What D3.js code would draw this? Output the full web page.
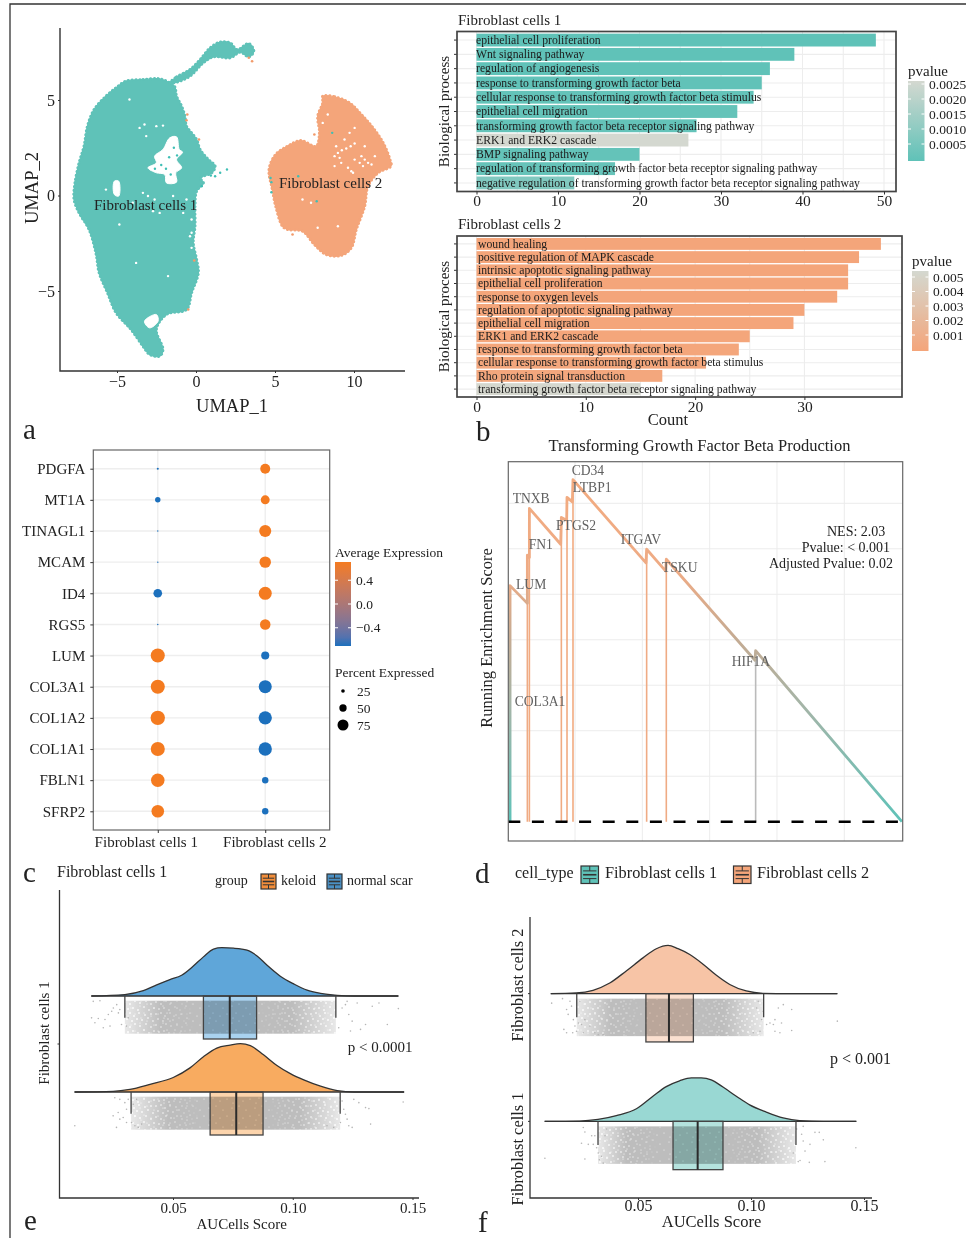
<!DOCTYPE html>
<html>
<head>
<meta charset="utf-8">
<script src="https://cdn.jsdelivr.net/npm/d3@7"></script>
<style>
  body { margin: 0; background: #fff; }
  svg { display: block; font-family: "Liberation Serif", serif; fill: #222; filter: blur(0.4px); }
</style>
</head>
<body>
<svg id="fig" width="966" height="1238"></svg>
<script>
// ---- panel a : umap outlines (umap_1, umap_2)
const umapFc1 = [[-4.43,5.99],[-3.36,6.07],[-2.30,6.11],[-1.66,5.90],[-1.34,5.69],[-1.23,5.20],[-0.91,4.68],[-0.70,4.15],[-0.60,3.63],[-0.28,3.28],[0.04,2.93],[0.26,2.41],[0.79,1.88],[1.21,1.54],[1.00,1.19],[0.26,0.92],[0.47,0.66],[0.04,0.23],[-0.06,-0.56],[-0.06,-1.61],[-0.17,-2.48],[0.04,-3.35],[0.15,-4.05],[-0.28,-5.10],[-0.60,-5.97],[-1.87,-6.23],[-2.51,-7.02],[-2.09,-8.06],[-2.30,-8.41],[-2.94,-8.32],[-3.36,-7.89],[-4.11,-7.02],[-5.06,-6.14],[-5.60,-5.10],[-6.13,-4.05],[-6.34,-3.00],[-6.77,-1.78],[-7.40,-0.91],[-7.72,-0.21],[-7.66,0.66],[-7.40,1.71],[-7.09,2.58],[-6.87,3.63],[-6.45,4.50],[-5.70,5.20],[-5.06,5.64]];
const umapFc1Tail = [[-1.66,5.90],[-1.23,6.21],[-0.38,6.60],[0.26,7.12],[0.89,7.73],[1.53,8.03],[2.17,7.99],[2.60,7.64],[3.34,7.96],[3.66,7.56],[3.34,7.26],[2.81,7.50],[2.17,7.21],[1.11,7.26],[0.47,6.95],[-0.38,6.25],[-1.23,5.93]];
const umapFc2 = [[8.02,5.20],[8.77,5.17],[9.72,4.85],[10.47,4.24],[11.21,3.54],[11.85,2.76],[12.28,1.88],[12.34,1.54],[11.53,1.19],[10.89,0.49],[10.68,-0.56],[10.15,-1.78],[9.83,-2.74],[9.19,-3.14],[8.23,-3.09],[7.49,-2.57],[6.74,-1.87],[5.79,-1.78],[5.47,-1.61],[5.04,-0.56],[4.83,0.31],[4.62,1.36],[5.04,2.15],[5.79,2.58],[6.64,2.88],[7.60,2.58],[7.81,3.28],[7.70,4.15],[8.02,4.85]];
const umapHoles = [
  [[-2.62,2.06],[-2.09,2.41],[-1.66,3.02],[-1.23,3.07],[-1.06,2.41],[-0.85,2.27],[-1.23,1.88],[-0.91,1.45],[-1.28,1.19],[-1.23,0.70],[-1.87,0.66],[-1.98,1.10],[-2.51,1.19],[-3.04,1.45],[-2.51,1.71]],
  [[-5.17,0.75],[-4.89,0.75],[-4.89,-0.03],[-5.17,0.05]],
  [[-3.26,-6.58],[-2.51,-6.23],[-2.40,-6.58],[-2.94,-6.93]]
];
const umapGaps = [[-3.26,3.72],[-2.09,3.66],[-3.57,3.54],[-5.06,0.58],[-5.70,0.31],[-3.36,0.14],[-3.04,-0.03],[-2.30,-0.91],[-2.72,-0.82],[-4.85,-1.52],[-3.79,-3.53],[-1.77,-4.22],[-0.81,-0.91],[-0.28,-1.26],[-0.38,-2.13],[-0.28,-2.74],[-0.28,-1.95],[-3.15,3.11],[-4.21,5.03],[-2.62,-0.21],[-4.0,-0.38],[-1.45,-0.03],[-2.51,3.63],[-0.6,-0.21],[9.19,1.71],[10.04,1.88],[10.47,2.06],[11.11,1.62],[9.83,1.27],[9.72,3.28],[10.04,3.54],[8.34,4.24],[8.02,3.80],[10.68,2.58],[8.77,1.54],[6.74,-0.21],[7.28,-0.38],[8.98,-1.61],[7.70,-1.69],[9.40,2.93],[10.57,1.54],[8.87,2.58],[11.32,2.06],[8.98,2.23],[9.23,2.37],[9.51,2.46],[9.79,2.58],[10.04,2.72],[8.77,2.06],[9.09,1.97],[9.62,1.45],[9.94,1.19],[10.36,1.71],[10.89,1.71],[10.68,1.88]];
const umapStrayFc1 = [[8.62,3.28],[6.47,1.01],[7.64,-0.30],[4.72,0.92],[4.77,0.70],[4.77,0.17],[1.53,1.19],[1.96,1.36],[1.21,1.01],[0.94,1.05],[0.36,0.49],[-1.7,2.0],[-1.4,2.5],[-2.2,1.6],[-1.6,1.1],[-1.2,2.1],[-2.6,1.4],[-1.9,1.4]];
const umapStrayFc2 = [[-0.55,4.24],[-0.60,3.94],[0.19,2.93],[-0.11,-3.40],[-0.49,-5.97],[3.34,7.21],[3.55,7.03],[6.11,-2.04],[7.49,3.19]];

// ---- panel b : go terms
const termsFc1 = ["epithelial cell proliferation","Wnt signaling pathway","regulation of angiogenesis","response to transforming growth factor beta","cellular response to transforming growth factor beta stimulus","epithelial cell migration","transforming growth factor beta receptor signaling pathway","ERK1 and ERK2 cascade","BMP signaling pathway","regulation of transforming growth factor beta receptor signaling pathway","negative regulation of transforming growth factor beta receptor signaling pathway"];
const countsFc1 = [49,39,36,35,34,32,27,26,20,17,12];
const pvalsFc1 = [0.00001,0.00002,0.00002,0.00005,0.00008,0.0001,0.0001,0.0025,0.0001,0.00015,0.0007];
const pvalTicksFc1 = [0.0025,0.0020,0.0015,0.0010,0.0005];
const termsFc2 = ["wound healing","positive regulation of MAPK cascade","intrinsic apoptotic signaling pathway","epithelial cell proliferation","response to oxygen levels","regulation of apoptotic signaling pathway","epithelial cell migration","ERK1 and ERK2 cascade","response to transforming growth factor beta","cellular response to transforming growth factor beta stimulus","Rho protein signal transduction","transforming growth factor beta receptor signaling pathway"];
const countsFc2 = [37,35,34,34,33,30,29,25,24,21,17,15];
const pvalsFc2 = [0.00001,0.00001,0.00001,0.00001,0.00001,0.00002,0.00002,0.00005,0.00005,0.0001,0.0002,0.0049];
const pvalTicksFc2 = [0.005,0.004,0.003,0.002,0.001];

// ---- panel c : dot plot
const genes = ["PDGFA","MT1A","TINAGL1","MCAM","ID4","RGS5","LUM","COL3A1","COL1A2","COL1A1","FBLN1","SFRP2"];
const dotClusters = ["Fibroblast cells 1","Fibroblast cells 2"];
const pctFc1 = [14,37,10,10,59,10,96,96,98,96,92,86];
const pctFc2 = [68,61,82,78,89,72,55,89,91,91,44,44];
const expFc1 = [-0.707,-0.707,-0.707,-0.707,-0.707,-0.707,0.707,0.707,0.707,0.707,0.707,0.707];
const expFc2 = [0.707,0.707,0.707,0.707,0.707,0.707,-0.707,-0.707,-0.707,-0.707,-0.707,-0.707];
const expTicks = [0.4,0,-0.4];
const pctTicks = [25,50,75];

// ---- panel d : running enrichment score
const runRank = [0.035,0.035,0.292,0.292,0.322,0.322,0.787,0.797,0.876,0.881,0.960,0.970,2.054,2.064,2.347,2.356,3.673,3.683,5.856];
const runEs = [0,0.519,0.480,0.586,0.581,0.689,0.610,0.669,0.663,0.713,0.703,0.752,0.569,0.599,0.551,0.577,0.355,0.376,0];
const gseaGenes = ["COL3A1","LUM","FN1","TNXB","PTGS2","LTBP1","CD34","ITGAV","TSKU","HIF1A"];
const gseaRank = [0.03,0.035,0.292,0.322,0.797,0.881,0.970,2.064,2.356,3.683];
const gseaEs = [0.46,0.519,0.586,0.689,0.669,0.713,0.752,0.599,0.577,0.376];

// ---- panels e,f : raincloud
const scoreTicks = [0.05,0.10,0.15];
const scarScore = [0.0159,0.0299,0.0376,0.0432,0.0487,0.0536,0.0585,0.0627,0.0669,0.0704,0.0753,0.0809,0.0851,0.0892,0.0948,0.1004,0.1060,0.1116,0.1186,0.1256,0.1441];
const scarDens = [0,0.03,0.11,0.23,0.34,0.43,0.62,0.81,0.97,1,0.99,0.95,0.83,0.64,0.41,0.25,0.12,0.055,0.014,0,0];
const scarBox = [0.0299,0.0627,0.0737,0.0849,0.1180];
const scarCore = [0.045,0.100];
const scarDotScore = [0.0167,0.0195,0.0174,0.0188,0.0216,0.0230,0.0244,0.0251,0.0265,0.0272,0.0278,0.0237,0.0209,0.0285,0.0306,0.0313,0.0160,0.1206,0.1220,0.1234,0.1248,0.1227,0.1269,0.1283,0.1304,0.1332,0.1360,0.1395,0.1441,0.1241,0.1192];
const scarDotJit = [0.02,0,0.67,0.54,0.57,0.42,0.32,0.22,0.12,0.37,0.27,0.77,0.82,0.72,0.77,0.52,0.52,0.22,0.12,0.42,0.62,0.02,0.07,0.87,0.72,0.17,0.07,0.72,0.24,0.92,0.82];

const keloidScore = [0.0089,0.0250,0.0320,0.0404,0.0501,0.0571,0.0627,0.0683,0.0739,0.0781,0.0823,0.0878,0.0934,0.0990,0.1046,0.1116,0.1186,0.1256,0.1465];
const keloidDens = [0,0.014,0.055,0.16,0.30,0.50,0.73,0.91,0.97,1,0.96,0.77,0.55,0.38,0.25,0.12,0.03,0,0];
const keloidBox = [0.0325,0.0655,0.0764,0.0876,0.1198];
const keloidCore = [0.048,0.103];
const keloidDotScore = [0.0090,0.0257,0.0278,0.0299,0.0250,0.0271,0.0278,0.0264,0.0306,0.0306,0.0292,0.0313,0.0334,0.0341,0.0327,0.0355,0.0369,0.0348,0.1206,0.1227,0.1220,0.1234,0.1248,0.1255,0.1276,0.1304,0.1318,0.1325,0.1461,0.1199,0.1213,0.1171,0.1143];
const keloidDotJit = [0.88,0.03,0.08,0.18,0.58,0.48,0.68,0.93,0.38,0.78,0.63,0.08,0.23,0.88,0.78,0.93,0.83,0.08,0.13,0.68,0.53,0.88,0.93,0.08,0.18,0.33,0.36,0.83,0.16,0.78,0.38,0.93,0.88];

const fc2Score = [0.0114,0.0227,0.0301,0.0375,0.0448,0.0522,0.0581,0.0633,0.0677,0.0729,0.0788,0.0847,0.0906,0.0979,0.1053,0.1171,0.1382];
const fc2Dens = [0,0.014,0.07,0.22,0.47,0.74,0.93,1,0.93,0.81,0.61,0.38,0.19,0.055,0.007,0,0];
const fc2Box = [0.0229,0.0535,0.0637,0.0745,0.1056];
const fc2Core = [0.038,0.088];
const fc2DotScore = [0.0118,0.0166,0.0199,0.0206,0.0184,0.0191,0.0214,0.0172,0.0184,0.0211,0.0228,0.0250,0.0265,0.0287,0.0258,0.0236,0.0221,0.0309,0.0324,0.0346,0.0243,0.1032,0.1025,0.1047,0.1040,0.1069,0.1084,0.1106,0.1099,0.1135,0.1128,0.1106,0.1143,0.1121,0.1180,0.1180,0.1382,0.1010,0.1054];
const fc2DotJit = [0.12,0,0.07,0.2,0.29,0.42,0.56,0.82,0.91,0.91,0.87,0.69,0.56,0.73,0.91,0.65,0.73,0.91,0.96,0.96,0.07,0.07,0.25,0.56,0.87,0.69,0.65,0.56,0.69,0.65,0.91,0.87,0.16,0.25,0.29,0.85,0.6,0.91,0.34];

const fc1Score = [0.0087,0.0242,0.0323,0.0404,0.0493,0.0566,0.0625,0.0684,0.0736,0.0780,0.0824,0.0876,0.0935,0.0994,0.1068,0.1142,0.1215,0.1319,0.1466];
const fc1Dens = [0,0.007,0.04,0.12,0.26,0.52,0.72,0.84,0.9,0.9,0.86,0.71,0.52,0.34,0.19,0.07,0.014,0,0];
const fc1Box = [0.0323,0.0655,0.0764,0.0876,0.1199];
const fc1Core = [0.045,0.103];
const fc1DotScore = [0.0088,0.0258,0.0265,0.0295,0.0309,0.0250,0.0280,0.0302,0.0317,0.0265,0.0339,0.0329,0.0346,0.0361,0.0354,0.0324,0.1202,0.1231,0.1224,0.1231,0.1239,0.1209,0.1217,0.1258,0.1283,0.1302,0.1320,0.1327,0.1464,0.1187,0.1261];
const fc1DotJit = [0.85,0.03,0.15,0.25,0.25,0.45,0.48,0.48,0.57,0.87,0.8,0.89,0.98,0.07,0.25,0.71,0.07,0,0.21,0.39,0.66,0.94,0.91,0.96,0.16,0.16,0.36,0.94,0.57,0.71,0.48];

const teal = "#5fc2b8", peach = "#f4a57a", ink = "#333";
const svg = d3.select("#fig");
const defs = svg.append("defs");

function txt(g, x, y, s, size, anchor, rot) {
  let t = g.append("text").attr("x", x).attr("y", y).attr("font-size", size)
    .attr("text-anchor", anchor || "start").text(s);
  if (rot) t.attr("transform", `rotate(-90 ${x} ${y})`);
  return t;
}

// outer frame lines
svg.append("path").attr("d", "M10,1238V4H966").attr("fill", "none").attr("stroke", ink).attr("stroke-width", 1.3);

// panel letters
[["a",23,439],["b",476,441],["c",23,882],["d",475,883],["e",24,1230],["f",478,1232]].forEach(d => {
  txt(svg, d[1], d[2], d[0], 29);
});

// ==== panel a
function drawUmap() {
  let g = svg.append("g");
  let x = d3.scaleLinear().domain([0,10]).range([196,354]);
  let y = d3.scaleLinear().domain([-5,5]).range([291,100]);
  let blob = d3.line().x(d => x(d[0])).y(d => y(d[1])).curve(d3.curveCatmullRomClosed);

  [[umapFc1,teal],[umapFc1Tail,teal],[umapFc2,peach]].forEach(d => {
    g.append("path").attr("d", blob(d[0])).attr("fill", d[1]).attr("stroke", d[1])
      .attr("stroke-width", 1.2).attr("stroke-linejoin", "round");
    // dotted stroke so the edge looks like packed cells
    g.append("path").attr("d", blob(d[0])).attr("fill", "none").attr("stroke", d[1])
      .attr("stroke-width", 3).attr("stroke-linecap", "round").attr("stroke-dasharray", "0.1 3.7");
  });
  g.selectAll(".hole").data(umapHoles).enter().append("path").attr("class", "hole")
    .attr("d", blob).attr("fill", "#fff").attr("stroke", "#fff").attr("stroke-width", 1);
  g.selectAll(".gap").data(umapGaps).enter().append("circle").attr("class", "gap")
    .attr("cx", d => x(d[0])).attr("cy", d => y(d[1])).attr("r", 1.2).attr("fill", "#fff");
  g.selectAll(".s1").data(umapStrayFc1).enter().append("circle").attr("class", "s1")
    .attr("cx", d => x(d[0])).attr("cy", d => y(d[1])).attr("r", 1.2).attr("fill", "#3fbfb5");
  g.selectAll(".s2").data(umapStrayFc2).enter().append("circle").attr("class", "s2")
    .attr("cx", d => x(d[0])).attr("cy", d => y(d[1])).attr("r", 1.3).attr("fill", "#f29a6a");

  // axes
  let ax = g.append("g").attr("transform", "translate(0,371)")
    .call(d3.axisBottom(x).tickValues([-5,0,5,10]).tickSize(2).tickPadding(3));
  let ay = g.append("g").attr("transform", "translate(60,0)")
    .call(d3.axisLeft(y).tickValues([-5,0,5]).tickSize(2).tickPadding(3));
  [ax, ay].forEach(a => {
    a.selectAll("text").attr("font-family", "Liberation Serif").attr("font-size", 16).attr("fill", "#222");
    a.select(".domain").remove();
    a.selectAll("line").attr("stroke", ink);
  });
  g.append("path").attr("d", "M60,28V371H405").attr("fill", "none").attr("stroke", ink).attr("stroke-width", 1.4);
  txt(g, 232, 412, "UMAP_1", 18.5, "middle");
  txt(g, 38, 188, "UMAP_2", 18.5, "middle", true);
  txt(g, 94, 210, "Fibroblast cells 1", 15);
  txt(g, 279, 188, "Fibroblast cells 2", 15);
}
drawUmap();

// ==== panel b
function drawBars(o) {
  let g = svg.append("g");
  let x = d3.scaleLinear().domain([0,10]).range([o.x0, o.x0 + o.unit * 10]);
  let y = d3.scalePoint().domain(o.terms).range([o.top, o.bottom]).padding(0.6);
  let step = y.step();
  let col = d3.scaleLinear().domain([0, o.pmax]).range([o.color, "#d4d8d0"]);

  // grid
  let minor = d3.range(o.minor, o.xmax, o.minor * 2);
  g.selectAll(".gv").data(o.ticks.concat(minor)).enter().append("line").attr("class", "gv")
    .attr("x1", d => x(d)).attr("x2", d => x(d)).attr("y1", o.top).attr("y2", o.bottom)
    .attr("stroke", "#ededed").attr("stroke-width", 1.1);
  g.selectAll(".gh").data(o.terms).enter().append("line").attr("class", "gh")
    .attr("y1", d => y(d)).attr("y2", d => y(d)).attr("x1", o.left).attr("x2", o.right)
    .attr("stroke", "#ededed").attr("stroke-width", 1.1);

  g.selectAll(".bar").data(o.terms).enter().append("rect").attr("class", "bar")
    .attr("x", x(0)).attr("y", d => y(d) - step * 0.45)
    .attr("height", step * 0.9)
    .attr("width", (d, i) => x(o.counts[i]) - x(0))
    .attr("fill", (d, i) => col(o.pvals[i]));
  g.selectAll(".lab").data(o.terms).enter().append("text").attr("class", "lab")
    .attr("x", x(0) + o.textPad).attr("y", d => y(d) + 3.8)
    .attr("font-size", 11.7).attr("fill", "#1c1c1c").text(d => d);

  // y ticks, no labels
  g.selectAll(".yt").data(o.terms).enter().append("line").attr("class", "yt")
    .attr("y1", d => y(d)).attr("y2", d => y(d)).attr("x1", o.left - 3).attr("x2", o.left)
    .attr("stroke", ink);
  g.append("rect").attr("x", o.left).attr("y", o.top).attr("width", o.right - o.left)
    .attr("height", o.bottom - o.top).attr("fill", "none").attr("stroke", "#444").attr("stroke-width", 1.7);

  let ax = g.append("g").attr("transform", `translate(0,${o.bottom})`)
    .call(d3.axisBottom(x).tickValues(o.ticks).tickSize(3).tickPadding(0.5));
  ax.select(".domain").remove();
  ax.selectAll("text").attr("font-family", "Liberation Serif").attr("font-size", 15.5).attr("fill", "#222");
  ax.selectAll("line").attr("stroke", ink);

  txt(g, 458, o.top - 7, o.title, 15);
  txt(g, 449, (o.top + o.bottom) / 2, "Biological process", 15, "middle", true);

  // legend
  let ly = d3.scaleLinear().domain([o.legTicks[0], o.legTicks[4]]).range([o.legY0, o.legY1]);
  let id = "grad" + o.id;
  let grad = defs.append("linearGradient").attr("id", id).attr("x1", 0).attr("x2", 0).attr("y1", 1).attr("y2", 0);
  d3.range(0, 1.01, 0.1).forEach(t => {
    grad.append("stop").attr("offset", t).attr("stop-color", col(t * o.pmax));
  });
  g.append("rect").attr("x", o.legX).attr("y", o.legTop).attr("width", 16.5)
    .attr("height", o.legBot - o.legTop).attr("fill", `url(#${id})`);
  o.legTicks.forEach(t => {
    g.append("line").attr("x1", o.legX).attr("x2", o.legX + 3).attr("y1", ly(t)).attr("y2", ly(t)).attr("stroke", "#fff");
    g.append("line").attr("x1", o.legX + 13.5).attr("x2", o.legX + 16.5).attr("y1", ly(t)).attr("y2", ly(t)).attr("stroke", "#fff");
    txt(g, o.legX + 21, ly(t) + 4.5, t.toFixed(o.legDigits), 13.5);
  });
  txt(g, o.legX, o.legTop - 5, "pvalue", 15);
}

drawBars({ id: 1, title: "Fibroblast cells 1", terms: termsFc1, counts: countsFc1, pvals: pvalsFc1,
  color: teal, pmax: 0.0025, x0: 476.5, unit: 8.15, left: 457, right: 896, top: 31.5, bottom: 191.5,
  ticks: [0,10,20,30,40,50], minor: 5, xmax: 50, textPad: -0.5,
  legTicks: pvalTicksFc1, legDigits: 4, legX: 908, legTop: 81, legBot: 161, legY0: 84, legY1: 144 });
drawBars({ id: 2, title: "Fibroblast cells 2", terms: termsFc2, counts: countsFc2, pvals: pvalsFc2,
  color: peach, pmax: 0.005, x0: 476.5, unit: 10.93, left: 457, right: 902, top: 236, bottom: 397,
  ticks: [0,10,20,30], minor: 5, xmax: 35, textPad: 1.5,
  legTicks: pvalTicksFc2, legDigits: 3, legX: 912, legTop: 271, legBot: 351, legY0: 277, legY1: 335 });
txt(svg, 668, 425, "Count", 16.5, "middle");

// ==== panel c
function drawDots() {
  let g = svg.append("g");
  let x = d3.scalePoint().domain(dotClusters).range([93.3, 329.7]).padding(0.6);
  let y = d3.scalePoint().domain(genes).range([450, 830]).padding(0.6);
  let r = d3.scaleLinear().domain([0,100]).range([0,7.33]);
  let col = d3.scaleLinear().domain([-0.707,0.707]).range(["#1c70bd","#f47b20"]).interpolate(d3.interpolateLab);

  g.selectAll(".gh").data(genes).enter().append("line").attr("class", "gh")
    .attr("x1", 93).attr("x2", 330).attr("y1", d => y(d)).attr("y2", d => y(d)).attr("stroke", "#eee").attr("stroke-width", 1.4);
  g.selectAll(".gv").data(dotClusters).enter().append("line").attr("class", "gv")
    .attr("y1", 450).attr("y2", 830).attr("x1", d => x(d)).attr("x2", d => x(d)).attr("stroke", "#eee").attr("stroke-width", 1.4);

  [[dotClusters[0],pctFc1,expFc1],[dotClusters[1],pctFc2,expFc2]].forEach(s => {
    g.selectAll(null).data(genes).enter().append("circle")
      .attr("cx", x(s[0])).attr("cy", d => y(d))
      .attr("r", (d, i) => r(s[1][i]))
      .attr("fill", (d, i) => col(s[2][i]));
  });

  g.append("rect").attr("x", 93.3).attr("y", 450).attr("width", 236.4).attr("height", 380)
    .attr("fill", "none").attr("stroke", "#666").attr("stroke-width", 1.2);

  let ay = g.append("g").attr("transform", "translate(93.3,0)").call(d3.axisLeft(y).tickSize(3).tickPadding(5));
  let ax = g.append("g").attr("transform", "translate(0,830)").call(d3.axisBottom(x).tickSize(3).tickPadding(3));
  [ax, ay].forEach(a => {
    a.select(".domain").remove();
    a.selectAll("text").attr("font-family", "Liberation Serif").attr("font-size", 15).attr("fill", "#222");
    a.selectAll("line").attr("stroke", ink);
  });
  // the two column labels sit off their ticks in the original
  ax.selectAll("text").attr("dx", (d, i) => i == 0 ? -12 : 9);

  // colour legend
  let ly = d3.scaleLinear().domain([-0.707,0.707]).range([646,562]);
  let grad = defs.append("linearGradient").attr("id", "gradExp").attr("x1", 0).attr("x2", 0).attr("y1", 1).attr("y2", 0);
  d3.range(0, 1.01, 0.1).forEach(t => {
    grad.append("stop").attr("offset", t).attr("stop-color", col(-0.707 + t * 1.414));
  });
  g.append("rect").attr("x", 335).attr("y", 562).attr("width", 16).attr("height", 84).attr("fill", "url(#gradExp)");
  expTicks.forEach(t => {
    g.append("line").attr("x1", 335).attr("x2", 338).attr("y1", ly(t)).attr("y2", ly(t)).attr("stroke", "#fff");
    g.append("line").attr("x1", 348).attr("x2", 351).attr("y1", ly(t)).attr("y2", ly(t)).attr("stroke", "#fff");
    txt(g, 356, ly(t) + 4.5, d3.format(".1f")(t), 13.5);
  });
  txt(g, 335, 557, "Average Expression", 13.5);
  txt(g, 335, 677, "Percent Expressed", 13.5);
  let py = d3.scalePoint().domain(pctTicks).range([691,725]);
  pctTicks.forEach(p => {
    g.append("circle").attr("cx", 343).attr("cy", py(p)).attr("r", r(p)).attr("fill", "#000");
    txt(g, 357, py(p) + 4.5, p, 13.5);
  });
}
drawDots();

// ==== panel d
function drawGsea() {
  let g = svg.append("g");
  let x = d3.scaleLinear().domain([0,5]).range([507.7,844.3]);
  let y = d3.scaleLinear().domain([0,0.7]).range([821.7,503.3]);
  let esCol = d3.scaleLinear().domain([0,0.25,0.4,0.55,0.75]).range([teal,"#a3b5a8","#c4ab93","#eeab85","#f2ab80"]);
  const L = 508.3, R = 902.7, T = 461.7, B = 841;

  g.selectAll(".gv").data([1,2,3,4,5]).enter().append("line").attr("class", "gv")
    .attr("x1", d => x(d)).attr("x2", d => x(d)).attr("y1", T).attr("y2", B).attr("stroke", "#ececec");
  g.selectAll(".gh").data([0.1,0.2,0.3,0.4,0.5,0.6,0.7]).enter().append("line").attr("class", "gh")
    .attr("y1", d => y(d)).attr("y2", d => y(d)).attr("x1", L).attr("x2", R).attr("stroke", "#ececec");

  let grad = defs.append("linearGradient").attr("id", "gradEs").attr("gradientUnits", "userSpaceOnUse")
    .attr("x1", 0).attr("x2", 0).attr("y1", y(0)).attr("y2", y(0.75));
  esCol.domain().forEach(e => grad.append("stop").attr("offset", e / 0.75).attr("stop-color", esCol(e)));

  // gene drop lines
  gseaGenes.forEach((n, i) => {
    g.append("line").attr("x1", x(gseaRank[i])).attr("x2", x(gseaRank[i])).attr("y1", y(0)).attr("y2", y(gseaEs[i]))
      .attr("stroke", i < 2 ? "url(#gradEs)" : (n == "HIF1A" ? "#bbb" : esCol(gseaEs[i]))).attr("stroke-width", 1.6);
  });

  let line = d3.line().x((d, i) => x(runRank[i])).y(d => y(d));
  g.append("path").attr("d", line(runEs)).attr("fill", "none").attr("stroke", "url(#gradEs)")
    .attr("stroke-width", 2.8).attr("stroke-linejoin", "round");

  g.append("line").attr("x1", L).attr("x2", R).attr("y1", y(0)).attr("y2", y(0))
    .attr("stroke", "#000").attr("stroke-width", 2.6).attr("stroke-dasharray", "12,11.6");
  g.append("rect").attr("x", L).attr("y", T).attr("width", R - L).attr("height", B - T)
    .attr("fill", "none").attr("stroke", "#666").attr("stroke-width", 1.2);

  // label nudges from the gene's own point
  const nudge = { COL3A1:[5,94], LUM:[6,3.7], FN1:[1.3,-5.7], TNXB:[-16.7,-5.7], PTGS2:[-5.3,12.7], LTBP1:[5.7,-5.3], CD34:[-1.3,-5], ITGAV:[-26,-5.7], TSKU:[-4.3,13], HIF1A:[-24,15.7] };
  gseaGenes.forEach((n, i) => {
    txt(g, x(gseaRank[i]) + nudge[n][0], y(gseaEs[i]) + nudge[n][1], n, 13.6).attr("fill", "#606060");
  });

  txt(g, 699.5, 451, "Transforming Growth Factor Beta Production", 16.5, "middle");
  txt(g, 492, 638, "Running Enrichment Score", 16.5, "middle", true);
  txt(g, 827, 536, "NES: 2.03", 14);
  txt(g, 801.7, 552, "Pvalue: < 0.001", 14);
  txt(g, 769, 568, "Adjusted Pvalue: 0.02", 14);
}
drawGsea();

// ==== panels e,f
function legendKey(g, x, y, s, fill) {
  g.append("rect").attr("x", x).attr("y", y).attr("width", s).attr("height", s)
    .attr("fill", fill).attr("stroke", ink).attr("stroke-width", 1.2);
  [0.28,0.72].forEach(t => g.append("line").attr("x1", x + s * 0.12).attr("x2", x + s * 0.88)
    .attr("y1", y + s * t).attr("y2", y + s * t).attr("stroke", ink));
  g.append("line").attr("x1", x + s * 0.12).attr("x2", x + s * 0.88).attr("y1", y + s / 2).attr("y2", y + s / 2)
    .attr("stroke", ink).attr("stroke-width", 1.6);
  g.append("line").attr("x1", x + s / 2).attr("x2", x + s / 2).attr("y1", y).attr("y2", y + s * 0.28).attr("stroke", ink);
  g.append("line").attr("x1", x + s / 2).attr("x2", x + s / 2).attr("y1", y + s * 0.72).attr("y2", y + s).attr("stroke", ink);
}

// grain for the rain bands: fine in the core, coarser towards the tails
let speck = defs.append("pattern").attr("id", "speck").attr("patternUnits", "userSpaceOnUse").attr("width", 23).attr("height", 17);
[[2,3],[9,1],[16,5],[6,10],[13,13],[20,11],[3,15]].forEach(d => speck.append("circle").attr("cx", d[0]).attr("cy", d[1]).attr("r", 0.5).attr("fill", "#fff"));
let speckBig = defs.append("pattern").attr("id", "speckBig").attr("patternUnits", "userSpaceOnUse").attr("width", 31).attr("height", 23);
[[1,2],[6,1],[10,4],[15,1],[21,3],[27,2],[3,7],[8,9],[13,7],[18,8],[24,6],[29,9],[1,13],[6,15],[11,12],[16,14],[22,12],[27,15],[4,20],[9,19],[14,21],[20,18],[25,21],[30,19]].forEach(d => speckBig.append("circle").attr("cx", d[0]).attr("cy", d[1]).attr("r", 0.95).attr("fill", "#fff"));

function drawCloud(g, x, base, c, dims, id) {
  // rain band
  let grad = defs.append("linearGradient").attr("id", id).attr("gradientUnits", "userSpaceOnUse")
    .attr("x1", x(c.box[0])).attr("x2", x(c.box[4])).attr("y1", 0).attr("y2", 0);
  let span = c.box[4] - c.box[0];
  [[0,0.35],[(c.core[0] - c.box[0]) / span,1],[(c.core[1] - c.box[0]) / span,1],[1,0.35]].forEach(s => {
    grad.append("stop").attr("offset", s[0]).attr("stop-color", "#bdbdbd").attr("stop-opacity", s[1]);
  });
  let band = (a, b, fill) => g.append("rect").attr("x", x(a)).attr("y", base + dims.band).attr("width", x(b) - x(a))
    .attr("height", dims.bandH).attr("fill", fill);
  band(c.box[0], c.box[4], `url(#${id})`);
  band(c.box[0], c.box[4], "url(#speck)");

  // coarse grain fades out before the middle of the band
  let fade = defs.append("linearGradient").attr("id", id + "Fade").attr("gradientUnits", "userSpaceOnUse")
    .attr("x1", x(c.box[0])).attr("x2", x(c.box[4])).attr("y1", 0).attr("y2", 0);
  [[0,"#fff"],[(c.core[0] + 0.014 - c.box[0]) / span,"#000"],[(c.core[1] - 0.014 - c.box[0]) / span,"#000"],[1,"#fff"]].forEach(s => {
    fade.append("stop").attr("offset", s[0]).attr("stop-color", s[1]);
  });
  defs.append("mask").attr("id", id + "Mask").attr("maskUnits", "userSpaceOnUse")
    .attr("x", 0).attr("y", 0).attr("width", 966).attr("height", 1238)
    .append("rect").attr("width", 966).attr("height", 1238).attr("fill", `url(#${id}Fade)`);
  band(c.box[0], c.box[4], "url(#speckBig)").attr("mask", `url(#${id}Mask)`);

  g.selectAll(null).data(c.dotScore).enter().append("circle")
    .attr("cx", d => x(d)).attr("cy", (d, i) => base + dims.band + c.dotJit[i] * dims.bandH)
    .attr("r", 0.8).attr("fill", "#b5b5b5");

  // density on top of the baseline
  let yd = d3.scaleLinear().domain([0,1]).range([base, base - 48.3]);
  let area = d3.area().x((d, i) => x(c.score[i])).y0(base).y1(d => yd(d)).curve(d3.curveMonotoneX);
  let line = d3.line().x((d, i) => x(c.score[i])).y(d => yd(d)).curve(d3.curveMonotoneX);
  g.append("path").attr("d", area(c.dens)).attr("fill", c.fill);
  g.append("path").attr("d", line(c.dens)).attr("fill", "none").attr("stroke", ink).attr("stroke-width", 1.3);
  g.append("line").attr("x1", x(c.score[0])).attr("x2", x(c.score[c.score.length - 1])).attr("y1", base).attr("y2", base)
    .attr("stroke", ink).attr("stroke-width", 1.3);

  // box + whisker
  g.append("rect").attr("x", x(c.box[1])).attr("y", base).attr("width", x(c.box[3]) - x(c.box[1]))
    .attr("height", dims.box).attr("fill", c.boxFill).style("mix-blend-mode", "multiply");
  g.append("rect").attr("x", x(c.box[1])).attr("y", base).attr("width", x(c.box[3]) - x(c.box[1]))
    .attr("height", dims.box).attr("fill", "none").attr("stroke", "#444").attr("stroke-width", 1.3);
  g.append("line").attr("x1", x(c.box[2])).attr("x2", x(c.box[2])).attr("y1", base).attr("y2", base + dims.box)
    .attr("stroke", "#2b2b2b").attr("stroke-width", 2);
  [c.box[0], c.box[4]].forEach(v => {
    g.append("line").attr("x1", x(v)).attr("x2", x(v)).attr("y1", base).attr("y2", base + dims.whisk)
      .attr("stroke", "#444").attr("stroke-width", 1.3);
  });
}

function scoreAxis(g, x, y0, size, pad) {
  let ax = g.append("g").attr("transform", `translate(0,${y0})`)
    .call(d3.axisBottom(x).tickValues(scoreTicks).tickFormat(d3.format(".2f")).tickSize(2).tickPadding(pad));
  ax.select(".domain").remove();
  ax.selectAll("text").attr("font-family", "Liberation Serif").attr("font-size", size).attr("fill", "#222");
  ax.selectAll("line").attr("stroke", ink);
}

function drawE() {
  let g = svg.append("g");
  let x = d3.scaleLinear().domain([0.05,0.15]).range([173,412.5]);
  let groupY = d3.scalePoint().domain(["keloid","normal scar"]).range([1092,996]);
  let dims = { band: 4.7, bandH: 33, box: 43, whisk: 21.7 };
  drawCloud(g, x, groupY("normal scar"), { score: scarScore, dens: scarDens, box: scarBox, core: scarCore,
    dotScore: scarDotScore, dotJit: scarDotJit, fill: "#5fa6d9", boxFill: "#a9d2ef" }, dims, "bandScar");
  drawCloud(g, x, groupY("keloid"), { score: keloidScore, dens: keloidDens, box: keloidBox, core: keloidCore,
    dotScore: keloidDotScore, dotJit: keloidDotJit, fill: "#f8ab60", boxFill: "#fcd4ac" }, dims, "bandKeloid");

  g.append("path").attr("d", "M59.5,890V1198H419").attr("fill", "none").attr("stroke", ink).attr("stroke-width", 1.3);
  g.append("line").attr("x1", 57.5).attr("x2", 59.5).attr("y1", 1044).attr("y2", 1044).attr("stroke", ink);
  scoreAxis(g, x, 1198, 15, 2);

  txt(g, 241.7, 1229, "AUCells Score", 15, "middle");
  txt(g, 49, 1033, "Fibroblast cells 1", 15, "middle", true);
  txt(g, 57, 877, "Fibroblast cells 1", 16);
  txt(g, 215, 885, "group", 14);
  legendKey(g, 261, 874, 15, "#f28e3b");
  txt(g, 281, 885, "keloid", 14);
  legendKey(g, 327, 874, 15, "#4a90c4");
  txt(g, 347, 885, "normal scar", 14);
  txt(g, 347.7, 1052, "p  < 0.0001", 15);
}
drawE();

function drawF() {
  let g = svg.append("g");
  let x = d3.scaleLinear().domain([0.05,0.15]).range([638,864]);
  let y = d3.scalePoint().domain(["Fibroblast cells 1","Fibroblast cells 2"]).range([1198,917]).padding(0.6);
  let dims = { band: 5, bandH: 37.5, box: 48.3, whisk: 23.7 };
  drawCloud(g, x, y("Fibroblast cells 2"), { score: fc2Score, dens: fc2Dens, box: fc2Box, core: fc2Core,
    dotScore: fc2DotScore, dotJit: fc2DotJit, fill: "#f7c4a6", boxFill: "#fbe0d0" }, dims, "bandFc2");
  drawCloud(g, x, y("Fibroblast cells 1"), { score: fc1Score, dens: fc1Dens, box: fc1Box, core: fc1Core,
    dotScore: fc1DotScore, dotJit: fc1DotJit, fill: "#99d8d3", boxFill: "#b4e2dd" }, dims, "bandFc1");

  g.append("path").attr("d", "M530,917V1198H872").attr("fill", "none").attr("stroke", ink).attr("stroke-width", 1.3);
  y.domain().forEach(d => {
    g.append("line").attr("x1", 528).attr("x2", 530).attr("y1", y(d)).attr("y2", y(d)).attr("stroke", ink);
  });
  scoreAxis(g, x, 1198, 16, 0);

  txt(g, 711.5, 1227, "AUCells Score", 16.5, "middle");
  txt(g, 523, 985, "Fibroblast cells 2", 16.4, "middle", true);
  txt(g, 523, 1149, "Fibroblast cells 1", 16.4, "middle", true);
  txt(g, 515, 878, "cell_type", 16);
  legendKey(g, 581, 866, 17.5, teal);
  txt(g, 605, 878, "Fibroblast cells 1", 16.3);
  legendKey(g, 733.5, 866, 17.5, peach);
  txt(g, 757, 878, "Fibroblast cells 2", 16.3);
  txt(g, 830, 1064, "p < 0.001", 16);
}
drawF();
</script>
</body>
</html>
